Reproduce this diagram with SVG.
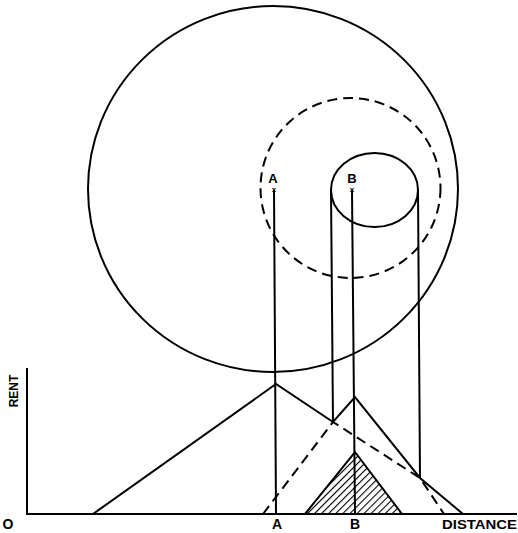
<svg xmlns="http://www.w3.org/2000/svg" width="518" height="533" viewBox="0 0 518 533">
<style>
.ln{fill:none;stroke:#000;stroke-width:2;stroke-linejoin:miter;stroke-linecap:butt}
.dash{fill:none;stroke:#000;stroke-width:2;stroke-dasharray:10 6}
.lbl{font-family:"Liberation Sans",Arial,sans-serif;font-weight:bold;fill:#000}
</style>
<defs>
<pattern id="hatch" patternUnits="userSpaceOnUse" width="5" height="5" patternTransform="rotate(45)">
<line x1="0" y1="0" x2="0" y2="5" stroke="#000" stroke-width="2.2"/>
</pattern>
</defs>
<rect width="518" height="533" fill="#fff"/>
<g id="circles">
<ellipse id="big-circle" class="ln" cx="273" cy="189" rx="185" ry="183"/>
<circle id="dashed-circle" class="dash" cx="350.5" cy="188" r="90"/>
<ellipse id="small-circle" class="ln" cx="374.5" cy="190" rx="43.5" ry="37"/>
</g>
<g id="axes">
<polyline class="ln" points="27,368 27,514 517,514"/>
</g>
<g id="connectors">
<line class="ln" x1="274" y1="190" x2="276" y2="514"/>
<line class="ln" x1="331" y1="190" x2="333" y2="422"/>
<line class="ln" x1="352" y1="190" x2="355" y2="514"/>
<line class="ln" x1="418" y1="190" x2="420" y2="478"/>
</g>
<g id="rent-curves">
<polyline class="ln" points="93,514 276,384 333,422 355,397 420,478 463,514"/>
<polyline class="dash" points="263,514 333,422 420,478 444,514"/>
<polygon id="hatched" points="305,514 355,452 402,514" fill="url(#hatch)" stroke="#000" stroke-width="2"/>
</g>
<g id="labels">
<text class="lbl" x="273" y="183" font-size="13" text-anchor="middle">A</text>
<text class="lbl" x="274" y="192" font-size="8" text-anchor="middle">x</text>
<text class="lbl" x="352" y="183" font-size="13" text-anchor="middle">B</text>
<text class="lbl" x="352" y="192" font-size="8" text-anchor="middle">x</text>
<text class="lbl" x="8" y="529" font-size="14" text-anchor="middle">O</text>
<text class="lbl" x="277" y="529" font-size="14" text-anchor="middle">A</text>
<text class="lbl" x="355" y="529" font-size="14" text-anchor="middle">B</text>
<text class="lbl" x="442" y="529" font-size="12" textLength="75" lengthAdjust="spacingAndGlyphs">DISTANCE</text>
<text class="lbl" font-size="12" text-anchor="middle" transform="translate(18,391) rotate(-90)">RENT</text>
</g>
</svg>
